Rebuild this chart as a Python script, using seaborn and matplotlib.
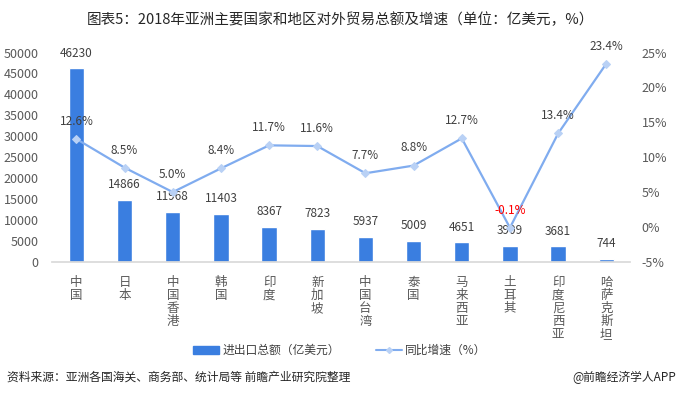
import pandas as pd
import matplotlib.pyplot as plt
import seaborn as sns
from matplotlib.patches import Patch
from matplotlib.lines import Line2D

regions = ['中国', '日本', '中国香港', '韩国', '印度', '新加坡', '中国台湾',
           '泰国', '马来西亚', '土耳其', '印度尼西亚', '哈萨克斯坦']
trade = [46230, 14866, 11968, 11403, 8367, 7823, 5937, 5009, 4651, 3909, 3681, 744]
growth = [12.6, 8.5, 5.0, 8.4, 11.7, 11.6, 7.7, 8.8, 12.7, -0.1, 13.4, 23.4]

df = pd.DataFrame({'region': regions, 'trade': trade, 'growth': growth})

sns.set_theme(style='white')
plt.rcParams['font.family'] = ['Noto Sans CJK SC', 'DejaVu Sans']

fig = plt.figure(figsize=(6.8, 3.95), dpi=100)
ax = fig.add_axes([0.077, 0.337, 0.85, 0.53])

bar_col = '#3a7ee0'
line_col = '#80acef'
txt = '#404040'

sns.barplot(data=df, x='region', y='trade', color=bar_col, width=0.32,
            saturation=1, ax=ax)
for p in ax.patches:
    print(p.get_width())
ax.set_ylim(0, 50000)
ax.set_yticks(range(0, 50001, 5000))
ax.set_xlim(-0.5, 11.5)
ax.set_xlabel('')
ax.set_ylabel('')
ax.set_xticks(range(len(regions)))
ax.set_xticklabels(['\n'.join(r) for r in regions], fontsize=9, color='#595959',
                   linespacing=1.0, va='top')
ax.tick_params(axis='both', length=0, labelsize=9, colors='#595959', pad=10)
for s in ['left', 'right', 'top']:
    ax.spines[s].set_visible(False)
ax.spines['bottom'].set_color('#d9d9d9')

for i, v in enumerate(trade):
    ax.text(i, v + 2100, str(v), ha='center', va='bottom', fontsize=8.5, color=txt)

ax2 = ax.twinx()
sns.lineplot(x=list(range(len(regions))), y=growth, ax=ax2, color=line_col,
             linewidth=1.6, marker='D', markersize=4.5, markeredgecolor='#b9d1f5',
             markerfacecolor='#b9d1f5')
ax2.set_ylim(-5, 25)
ax2.set_yticks(range(-5, 26, 5))
ax2.set_yticklabels([f'{t}%' for t in range(-5, 26, 5)])
ax2.tick_params(axis='y', length=0, labelsize=9, colors='#595959', pad=8)
for s in ['left', 'right', 'top', 'bottom']:
    ax2.spines[s].set_visible(False)

for i, g in enumerate(growth):
    ax2.text(i, g + 1.6, f'{g:.1f}%', ha='center', va='bottom', fontsize=8.5,
             color='red' if g < 0 else txt)

fig.text(0.5, 0.95, '图表5：2018年亚洲主要国家和地区对外贸易总额及增速（单位：亿美元，%）',
         ha='center', va='center', fontsize=10.5, color='#262626')

handles = [Patch(color=bar_col, label='进出口总额（亿美元）'),
           Line2D([0], [0], color=line_col, marker='D', markersize=3,
                  markerfacecolor='#b9d1f5', markeredgecolor='#b9d1f5',
                  label='同比增速（%）')]
fig.legend(handles=handles, loc='center', bbox_to_anchor=(0.5, 0.113), ncol=2,
           frameon=False, fontsize=8.5, handlelength=2.2, columnspacing=3,
           handletextpad=0.3, labelcolor='#404040')

fig.text(0.01, 0.045, '资料来源：亚洲各国海关、商务部、统计局等 前瞻产业研究院整理',
         ha='left', va='center', fontsize=8.5, style='italic', color='#262626')
fig.text(0.995, 0.045, '@前瞻经济学人APP', ha='right', va='center',
         fontsize=8.5, color='#262626')

fig.savefig('out.png', dpi=100)
